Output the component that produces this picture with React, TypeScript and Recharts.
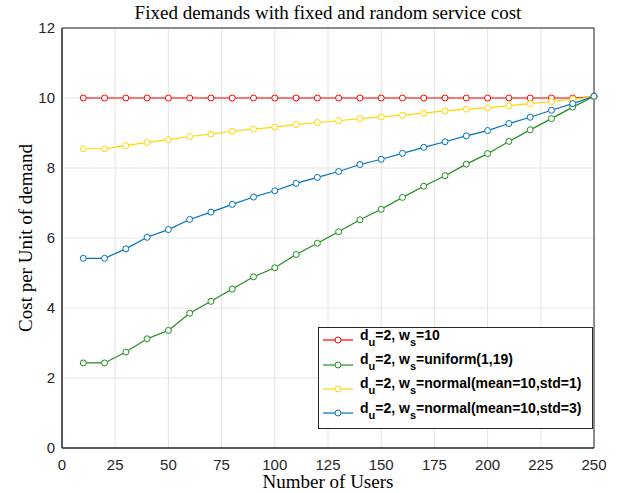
import React from 'react';
import { LineChart, Line, XAxis, YAxis, CartesianGrid, Legend } from 'recharts';

// number of users on the x axis
const users = [10, 20, 30, 40, 50, 60, 70, 80, 90, 100, 110, 120, 130, 140, 150, 160, 170, 180, 190, 200, 210, 220, 230, 240, 250];

// cost per unit of demand
const fixedCost = [10, 10, 10, 10, 10, 10, 10, 10, 10, 10, 10, 10, 10, 10, 10, 10, 10, 10, 10, 10, 10, 10, 10, 10, 10.03];
const uniformCost = [2.43, 2.43, 2.74, 3.12, 3.36, 3.85, 4.19, 4.54, 4.89, 5.15, 5.53, 5.85, 6.18, 6.52, 6.82, 7.16, 7.48, 7.78, 8.11, 8.41, 8.76, 9.09, 9.41, 9.74, 10.05];
const normalStd1Cost = [8.55, 8.55, 8.64, 8.73, 8.81, 8.9, 8.97, 9.05, 9.11, 9.17, 9.24, 9.3, 9.35, 9.41, 9.46, 9.51, 9.57, 9.63, 9.68, 9.72, 9.78, 9.84, 9.9, 9.97, 10.03];
const normalStd3Cost = [5.42, 5.42, 5.69, 6.02, 6.24, 6.53, 6.74, 6.96, 7.17, 7.35, 7.56, 7.73, 7.9, 8.1, 8.25, 8.42, 8.59, 8.75, 8.92, 9.07, 9.27, 9.45, 9.65, 9.84, 10.05];

const xTicks = [0, 25, 50, 75, 100, 125, 150, 175, 200, 225, 250];
const yTicks = [0, 2, 4, 6, 8, 10, 12];

// the w_s part of each legend label
const costLabels = ['10', 'uniform(1,19)', 'normal(mean=10,std=1)', 'normal(mean=10,std=3)'];

const series = [
  { key: 'fixed', values: fixedCost, label: costLabels[0], color: '#ff0000' },
  { key: 'uniform', values: uniformCost, label: costLabels[1], color: '#1e8f1e' },
  { key: 'normal1', values: normalStd1Cost, label: costLabels[2], color: '#ffd700' },
  { key: 'normal3', values: normalStd3Cost, label: costLabels[3], color: '#0072bd' },
];

const data = users.map((u, i) => {
  const row: Record<string, number> = { users: u };
  series.forEach((s) => {
    row[s.key] = s.values[i];
  });
  return row;
});

const AXIS = '#262626';
const SANS = '"Liberation Sans", Arial, sans-serif';
const SERIF = '"Liberation Serif", "DejaVu Serif", serif';

function LegendBox({ payload }: any) {
  const order = series.map((s) => s.key);
  const items = [...(payload || [])].sort((a: any, b: any) => order.indexOf(a.dataKey) - order.indexOf(b.dataKey));
  return (
    <div
      style={{
        border: `1px solid ${AXIS}`,
        background: '#fff',
        boxSizing: 'border-box',
        width: 275,
        height: 102,
        paddingTop: 0,
        fontFamily: SANS,
        fontWeight: 'bold',
        fontSize: 14,
        color: '#000',
      }}
    >
      {items.map((p: any) => {
        const s = series.find((d) => d.key === p.dataKey);
        return (
          <div key={p.dataKey} style={{ height: 24.4, display: 'flex', alignItems: 'center', whiteSpace: 'nowrap' }}>
            <svg width={36} height={12} style={{ marginLeft: 3, flex: 'none' }}>
              <line x1={1} y1={6} x2={31} y2={6} stroke={p.color} strokeWidth={1.2} />
              <circle cx={16} cy={6} r={3} fill="#fff" stroke={p.color} strokeWidth={1} />
            </svg>
            <span style={{ marginLeft: 2, position: 'relative', top: -3 }}>
              d<sub style={{ fontSize: 11, verticalAlign: -6 }}>u</sub>=2, w
              <sub style={{ fontSize: 11, verticalAlign: -6 }}>s</sub>={s ? s.label : ''}
            </span>
          </div>
        );
      })}
    </div>
  );
}

const labelStyle: React.CSSProperties = {
  position: 'absolute',
  fontFamily: SERIF,
  fontSize: 19,
  lineHeight: '20px',
  color: '#000',
  whiteSpace: 'nowrap',
};

export default function App() {
  return (
    <div style={{ position: 'absolute', left: 0, top: 0, width: 625, height: 493, background: '#fff' }}>
      <div style={{ ...labelStyle, left: 0, width: 656, top: 3, textAlign: 'center' }}>
        Fixed demands with fixed and random service cost
      </div>
      <div style={{ ...labelStyle, left: 0, width: 656, top: 472, textAlign: 'center' }}>Number of Users</div>
      <div style={{ ...labelStyle, left: 26, top: 238, transform: 'translate(-50%, -50%) rotate(-90deg)' }}>
        Cost per Unit of demand
      </div>
      <LineChart width={625} height={493} data={data} margin={{ top: 28, right: 31, bottom: 0, left: 0 }}>
        <CartesianGrid stroke="#e4e4e4" strokeWidth={1} />
        {/* labelled axes */}
        <XAxis
          dataKey="users"
          type="number"
          domain={[0, 250]}
          ticks={xTicks}
          height={45}
          stroke={AXIS}
          tickLine={false}
          tickMargin={5}
          tick={{ fill: AXIS, fontSize: 15, fontFamily: SANS }}
        />
        <YAxis
          type="number"
          domain={[0, 12]}
          ticks={yTicks}
          width={62}
          stroke={AXIS}
          tickLine={false}
          tickMargin={1}
          tick={{ fill: AXIS, fontSize: 15, fontFamily: SANS }}
        />
        {/* mirrored axes: box outline with inward ticks on all four sides */}
        <XAxis xAxisId="bm" orientation="bottom" mirror type="number" domain={[0, 250]} ticks={xTicks} height={6} stroke={AXIS} tickSize={5} tick={false} />
        <XAxis xAxisId="tm" orientation="top" mirror type="number" domain={[0, 250]} ticks={xTicks} height={6} stroke={AXIS} tickSize={5} tick={false} />
        <YAxis yAxisId="lm" orientation="left" mirror type="number" domain={[0, 12]} ticks={yTicks} width={6} stroke={AXIS} tickSize={5} tick={false} />
        <YAxis yAxisId="rm" orientation="right" mirror type="number" domain={[0, 12]} ticks={yTicks} width={6} stroke={AXIS} tickSize={5} tick={false} />
        <Legend
          layout="vertical"
          align="center"
          verticalAlign="middle"
          content={<LegendBox />}
          wrapperStyle={{ left: 318, top: 327, width: 275, height: 102 }}
        />
        {series.map((s) => (
          <Line
            key={s.key}
            dataKey={s.key}
            name={s.label}
            stroke={s.color}
            strokeWidth={1.2}
            dot={{ r: 3, fill: '#fff', stroke: s.color, strokeWidth: 1 }}
            activeDot={false}
            isAnimationActive={false}
          />
        ))}
      </LineChart>
    </div>
  );
}
